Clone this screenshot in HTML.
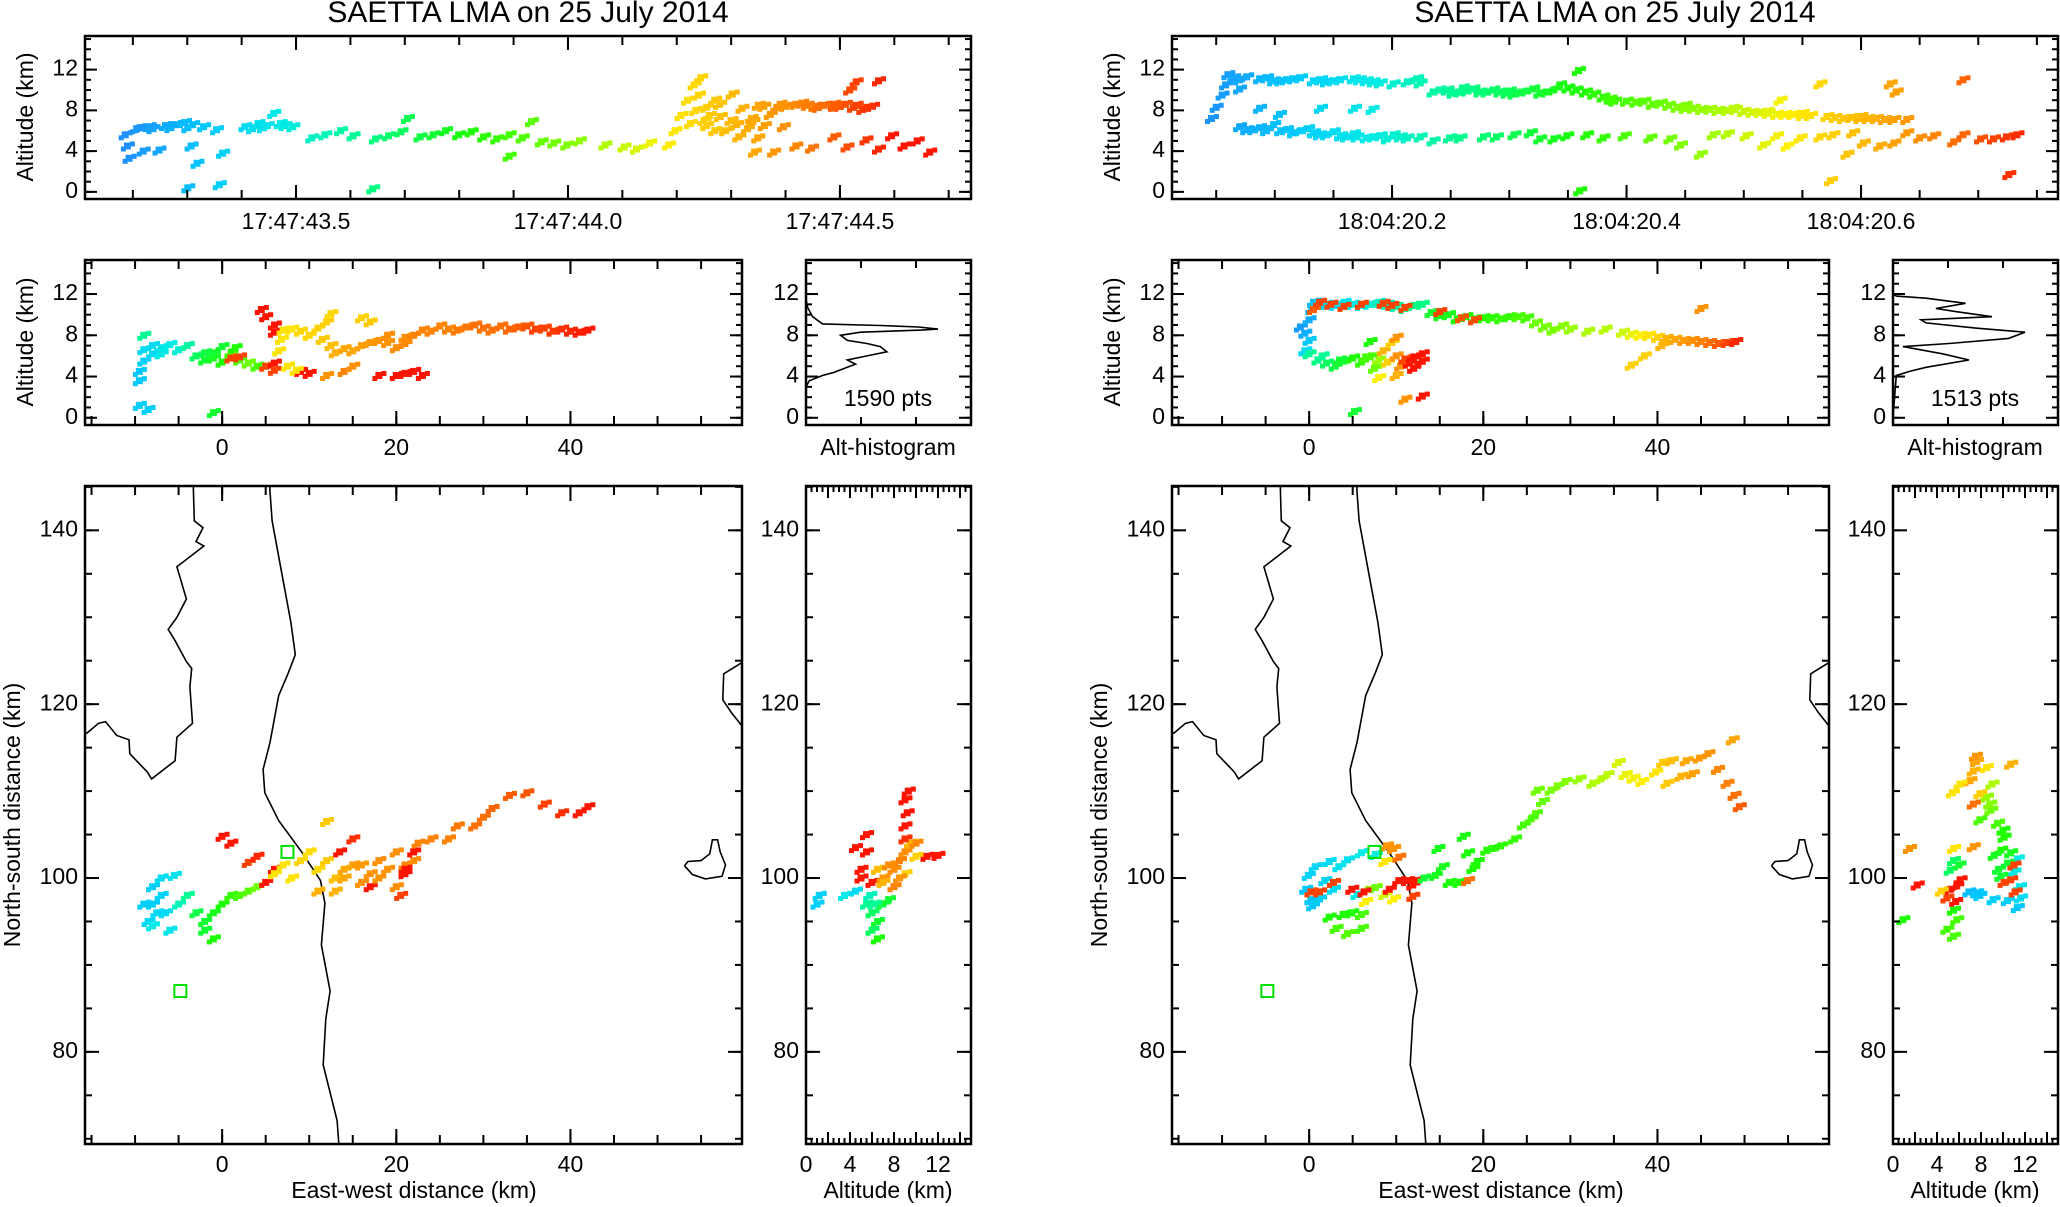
<!DOCTYPE html>
<html><head><meta charset="utf-8"><style>
html,body{margin:0;padding:0;background:#fff;}
svg{display:block;font-family:"Liberation Sans",sans-serif;}
</style></head><body>
<svg id="fig" width="2060" height="1207" viewBox="0 0 2060 1207" xmlns="http://www.w3.org/2000/svg">
<rect x="0" y="0" width="2060" height="1207" fill="#fff"/>
<defs>
<clipPath id="clipL"><rect x="85" y="486" width="657" height="658"/></clipPath>
<clipPath id="clipR"><rect x="1172" y="486" width="657" height="658"/></clipPath>
</defs>
</svg>
<script>
// ---------- DATA ----------
const leftTimeLabels=["17:47:43.5","17:47:44.0","17:47:44.5"];
const leftTimeTickVals=[0.5,1.0,1.5];
const rightTimeLabels=["18:04:20.2","18:04:20.4","18:04:20.6"];
const rightTimeTickVals=[0.2,0.4,0.6];
const altTickVals=[0,4,8,12];
const distTickVals=[0,20,40];
const nsTickVals=[80,100,120,140];
const leftCount="1590 pts";
const rightCount="1513 pts";
// time-altitude: [seconds after 17:47:43, alt km]
const leftTimeAlt=[[.186,5.6],[.19,4.5],[.193,3.3],[.207,6.2],[.213,6.3],[.237,6.2],[.26,6.5],[.278,6.6],[.219,4.0],[.248,4.1],[.301,6.3],[.307,4.5],[.318,2.8],[.301,0.4],[.33,6.4],[.354,6.1],[.365,3.8],[.359,0.7],[.295,6.8],[.406,6.4],[.43,6.7],[.447,6.5],[.471,6.7],[.494,6.4],[.459,7.7],[.42,6.2],[.529,5.3],[.553,5.6],[.582,6.0],[.605,5.5],[.641,0.3],[.646,5.2],[.67,5.5],[.693,5.9],[.705,7.2],[.728,5.4],[.752,5.6],[.775,6.0],[.799,5.6],[.822,5.9],[.845,5.4],[.869,5.2],[.892,5.6],[.916,5.3],[.933,6.9],[.892,3.5],[.951,4.9],[.974,4.8],[.998,4.6],[1.021,5.0],[1.068,4.6],[1.103,4.4],[1.126,4.2],[1.15,4.8],[1.185,4.6],[1.197,6.0],[1.208,7.5],[1.22,9.0],[1.232,10.5],[1.244,11.2],[1.255,8.3],[1.279,8.6],[1.302,9.6],[1.255,6.5],[1.29,6.0],[1.314,5.4],[1.337,7.2],[1.361,6.5],[1.349,5.3],[1.372,7.6],[1.384,8.3],[1.419,8.6],[1.454,8.4],[1.489,8.6],[1.525,8.3],[1.542,8.1],[1.53,10.8],[1.571,10.9],[1.518,10.0],[1.343,3.9],[1.378,3.9],[1.419,4.5],[1.448,4.3],[1.489,5.4],[1.513,4.4],[1.548,5.1],[1.571,4.2],[1.595,5.5],[1.618,4.5],[1.642,5.0],[1.665,3.9],[1.396,6.4],[1.24,9.5],[1.26,7.5],[1.32,8.2],[1.35,8.5],[1.40,8.4],[1.47,8.5],[1.50,8.4],[1.27,9.0],[.23,6.4],[.27,6.3],[.31,6.6],[.44,6.3],[.48,6.5],[1.33,6.2],[1.30,7.0],[1.43,8.7],[1.51,8.6],[1.56,8.4],[1.28,7.4],[1.31,6.6],[1.36,8.4],[1.39,8.6],[1.44,8.5],[1.46,8.3],[1.49,8.4],[1.53,8.5],[1.55,8.3],[1.225,6.7],[1.235,8.0],[1.25,7.0],[1.27,6.0],[1.34,6.9]];
// [seconds after 18:04:20, alt km]
const rightTimeAlt=[[.046,7.2],[.05,8.3],[.055,9.5],[.058,10.5],[.06,11.5],[.065,11.2],[.076,11.3],[.087,11.1],[.099,10.9],[.11,11.0],[.122,11.2],[.133,10.9],[.144,10.8],[.156,11.0],[.167,11.1],[.178,10.9],[.19,10.7],[.201,10.6],[.213,10.8],[.221,11.1],[.224,10.7],[.235,9.8],[.247,10.0],[.258,9.8],[.269,10.1],[.281,9.8],[.292,9.8],[.304,9.6],[.315,9.9],[.326,9.7],[.338,10.0],[.343,10.5],[.357,10.0],[.372,9.6],[.386,9.1],[.4,8.9],[.415,8.9],[.429,8.7],[.443,8.3],[.457,8.2],[.471,8.1],[.486,8.0],[.5,7.9],[.514,7.8],[.528,7.6],[.542,7.6],[.557,7.5],[.571,7.4],[.585,7.2],[.599,7.2],[.613,7.2],[.628,7.1],[.639,7.1],[.625,10.6],[.63,9.8],[.565,10.6],[.359,11.9],[.531,9.0],[.07,10.1],[.076,6.1],[.087,6.3],[.099,6.6],[.11,6.1],[.122,6.0],[.133,5.8],[.144,5.6],[.156,5.5],[.167,5.7],[.178,5.3],[.19,5.5],[.201,5.6],[.213,5.3],[.224,5.4],[.235,5.0],[.249,5.3],[.258,5.3],[.278,5.4],[.289,5.4],[.304,5.6],[.318,5.8],[.326,5.2],[.338,5.2],[.087,8.2],[.104,7.6],[.139,8.2],[.168,8.2],[.183,8.1],[.349,5.5],[.366,5.6],[.38,5.3],[.398,5.5],[.42,5.3],[.437,5.2],[.446,4.6],[.463,3.7],[.474,5.6],[.486,5.7],[.502,5.5],[.517,4.6],[.528,5.5],[.537,4.5],[.548,5.3],[.565,5.4],[.576,5.6],[.588,3.7],[.593,5.8],[.602,4.8],[.616,4.5],[.628,4.8],[.639,5.8],[.65,5.3],[.662,5.5],[.679,4.9],[.687,5.6],[.702,5.2],[.713,5.2],[.724,5.4],[.733,5.6],[.574,1.1],[.726,1.7],[.687,11.0],[.36,0.1],[.07,6.4],[.093,6.0],[.116,5.8],[.128,6.2],[.15,5.9],[.17,5.4],[.196,5.2],[.26,10.2],[.3,9.9],[.32,10.1],[.39,8.9],[.45,8.5],[.49,8.2],[.52,7.9],[.55,7.7],[.6,7.4],[.07,11.0],[.093,11.2],[.105,10.9],[.116,11.1],[.139,11.0],[.15,10.9],[.172,11.0],[.184,10.8],[.24,10.0],[.252,9.7],[.264,9.9],[.275,9.8],[.286,10.0],[.298,9.7],[.31,9.8],[.332,9.8],[.35,10.2],[.365,9.8],[.38,9.3],[.408,8.8],[.422,8.6],[.436,8.5],[.45,8.2],[.464,8.1],[.478,8.0],[.493,8.1],[.507,7.8],[.521,7.7],[.535,7.6],[.55,7.5],[.578,7.3],[.592,7.3],[.606,7.2],[.62,7.1],[.082,6.1],[.105,6.0],[.138,5.6],[.161,5.4],[.184,5.4],[.207,5.4]];
// east-west km, altitude km, color fraction
const leftXZ=[[-9.5,4.5,.1],[-9,5.5,.12],[-9,6.6,.15],[-8,7,.15],[-7,6.8,.18],[-6,7.1,.2],[-5,6.6,.22],[-4,7,.28],[-9.5,1.2,.12],[-8.5,0.8,.12],[-1,0.5,.4],[-9.5,3.6,.1],[-9,8,.3],[-8,6.2,.15],[-7,6.2,.2],[-3,6,.35],[-2,5.6,.4],[-1,5.8,.42],[0,5.4,.45],[1,6.3,.5],[2,5.6,.5],[3,5.3,.55],[4,5,.5],[0,6.9,.4],[1.5,6.8,.45],[-2,6.3,.38],[-1,6.3,.4],[1,5.8,.95],[2,5.9,.95],[5,5,.95],[6,5.3,1],[6,4.6,.95],[9,4.5,1],[10,4.3,1],[4.5,10.5,1],[5,9.8,1],[6,9,1],[6,8.3,1],[6.5,6.5,.72],[6.8,7.6,.72],[7,8.5,.72],[7.5,5,.72],[8.5,4.6,.72],[8,8.6,.72],[9,8.4,.74],[10,8.0,.74],[11,8.7,.75],[12,9.3,.75],[12.5,10.1,.74],[11.5,7.6,.76],[12.5,7,.78],[16,9.7,.75],[17,9.3,.76],[13,6.3,.8],[14,6.7,.82],[15,6.5,.82],[16,7,.83],[17,7.3,.84],[18,7.5,.85],[19,7.3,.85],[20,6.8,.86],[21,7.8,.86],[22,8,.88],[24,8.4,.88],[26,8.6,.88],[28,8.8,.89],[30,8.7,.9],[32,8.9,.9],[34,8.8,.92],[36,8.6,.95],[38,8.4,.96],[40,8.4,.98],[42,8.5,1],[23,8.5,.88],[25,8.9,.88],[27,8.5,.89],[29,9,.9],[31,8.5,.9],[33,8.6,.91],[35,8.9,.93],[37,8.7,.95],[39,8.6,.97],[41,8.3,.99],[18,4.1,1],[20,4.1,1],[21,4.3,1],[22,4.5,1],[23,4.1,1],[12,4.1,.85],[14,4.5,.88],[15,5,.86],[19,8.0,.86],[21,7.2,.87]];
const rightXZ=[[-1,8.8,.02],[-0.5,8.2,.05],[0,7.5,.1],[0,9.5,.05],[0.3,10.5,.05],[0.5,11.2,.08],[-0.5,6.5,.15],[1,11.2,.12],[2,11.0,.15],[3,10.9,.15],[4,11.2,.18],[5,11.0,.2],[6,10.9,.2],[7,11.0,.22],[8,11.2,.25],[9,11.0,.25],[10,10.8,.28],[11,10.6,.3],[12,10.9,.32],[13,11.0,.32],[0.5,10.5,.92],[1.2,11.2,.95],[2.5,11,.95],[4,10.8,.95],[6,11,.95],[8.5,11.1,.95],[9.5,10.9,.95],[11,10.7,.95],[14,10.2,.4],[15,9.9,.42],[16,10.0,.42],[17,9.6,.44],[18,9.8,.45],[19,9.6,.45],[20,9.7,.46],[21,9.7,.47],[22,9.6,.48],[23,9.8,.48],[24,9.8,.5],[25,9.7,.5],[15,10.3,.95],[17.5,9.7,.93],[19,9.5,.94],[26,9.2,.55],[27,8.8,.56],[28,8.5,.56],[29,8.9,.58],[30,8.6,.6],[32,8.4,.62],[34,8.6,.63],[36,8.3,.65],[37,8.1,.68],[38,8.0,.7],[39,8.0,.72],[40,7.8,.75],[41,7.7,.8],[42,7.6,.82],[43,7.5,.84],[44,7.5,.86],[45,7.4,.88],[46,7.3,.9],[47,7.2,.92],[48,7.3,.95],[49,7.4,.98],[38.5,6.0,.75],[37,5.1,.75],[40.5,7.0,.8],[45,10.6,.85],[0,6.2,.3],[1,5.6,.32],[2,5.3,.35],[3,5.0,.38],[4,5.5,.4],[5,5.8,.45],[6,5.4,.48],[7,5.9,.5],[8,5.6,.6],[7.5,4.8,.55],[8.5,6.5,.8],[9,5.4,.75],[9.5,7.3,.75],[10,6.0,.85],[10.5,5.0,.85],[11,5.7,.95],[12,5.9,1],[12.5,5.2,1],[13,6.2,1],[12,4.8,1],[10,4.1,.8],[8,3.9,.7],[11,1.8,.85],[13,2.1,1],[5.2,0.6,.4],[7,7.4,.45],[10,7.8,.85],[1.5,6.0,.3],[3.5,5.6,.4],[6.5,5.9,.5],[11.5,5.3,1],[13,5.5,1]];
// plan view: east-west km, north-south km, color fraction
const leftPlan=[[-9,97,.12],[-8.5,95,.15],[-8,99,.12],[-7,98,.13],[-6.5,96,.15],[-7,100,.15],[-5.5,100.3,.18],[-6,94,.18],[-8,94.5,.2],[-5,97,.25],[-4,98,.3],[-8,97,.12],[-7.5,96,.14],[-3,96,.38],[-2,95,.4],[-1,96,.42],[0,97,.45],[1,98,.48],[2,98,.5],[3,98.5,.52],[4,99,.55],[-1,93,.45],[-2,94,.4],[0,104.8,1],[1,104,1],[3,101.8,.95],[4,102.5,.98],[5,99.5,1],[6,101,1],[6,100.5,.72],[7,101.5,.72],[8,100,.72],[9,102,.74],[10,103,.73],[11,101,.74],[12,102,.76],[12,106.5,.76],[13,100,.78],[11,98.5,.8],[14,100,.82],[15,101.5,.84],[16,99.5,.85],[17,100.5,.85],[18,102,.86],[19,101,.85],[20,99,.86],[21,101.5,.88],[22,102,.86],[20,103,.86],[22.5,104,.88],[24,104.5,.88],[26,104.5,.88],[27,106,.89],[29,106,.9],[30,107,.9],[31,108,.91],[33,109.5,.92],[35,109.8,.93],[37,108.5,.95],[39,107.5,.97],[41,107.5,.99],[42,108.2,1],[17,99,1],[21,101,1],[22,103,1],[20.5,98,.95],[21,100.5,1],[15,104.5,.97],[13.5,103,1],[14,101,.82],[16,101.5,.84],[18,100,.85],[13,98.5,.8]];
const rightPlan=[[-0.4,98.7,.1],[-0.1,100.3,.12],[0.7,101.3,.14],[2.3,101.9,.15],[4.4,102.1,.17],[6,102.9,.2],[7.6,102.7,.22],[0.4,96.8,.1],[1.2,97.6,.12],[2.8,98.7,.15],[5.5,98.1,.2],[3.4,101.3,.17],[1.8,99.7,.13],[0.2,97.5,.1],[3.9,95.8,.45],[4.9,96,.45],[6,95.8,.5],[3.1,94.2,.5],[4.4,93.6,.52],[6,94.2,.5],[2.3,95.5,.45],[6.8,98.7,.6],[7.6,98.9,.55],[8.7,98.1,.65],[9.7,97.6,.7],[6.5,97.3,.7],[0.2,98.4,.95],[1.2,98.4,.95],[2.8,99.5,.95],[4.9,98.7,1],[6.3,98.4,1],[9.2,98.7,1],[10.3,99.7,1],[11.3,99.7,1],[11.9,99.2,1],[12.4,99.7,1],[11.9,97.9,.95],[9.7,103.4,.85],[8.9,103.7,.85],[10.3,102.4,.9],[8.7,101.9,.72],[13.2,100,.4],[14.5,100.3,.42],[14.8,103.4,.42],[15.3,101.3,.42],[16.1,99.5,.44],[17.2,99.5,.44],[18.2,99.7,.9],[18.8,101.1,.45],[17.7,104.8,.43],[18.2,102.9,.44],[19.3,101.9,.45],[20.4,103.2,.46],[22,103.7,.47],[23.6,104.5,.48],[24.6,106.1,.5],[26,107.4,.52],[26.8,108.8,.54],[26.2,110.1,.55],[27.8,110.1,.56],[29.4,111.1,.58],[31,111.4,.6],[32.6,110.9,.62],[34.2,111.9,.64],[35.5,113.3,.66],[36.3,111.9,.68],[38.2,111.1,.7],[39.8,112.2,.72],[40.6,113.3,.76],[41.6,113.5,.78],[42.7,111.7,.8],[43.3,113.5,.82],[44.8,113.8,.84],[45.8,114.3,.85],[46.9,112.5,.87],[48,110.9,.88],[48.8,109.5,.9],[49.4,108.2,.92],[48.6,115.9,.82],[41.1,110.9,.76],[21,103.4,.46],[25.5,106.8,.51],[28.5,110.6,.57],[33.5,111.4,.63],[37.2,111.5,.69],[44,112,.83]];
// side view: altitude km, north-south km, color fraction
const leftSide=[[1.2,98,.12],[1,97,.12],[3.5,98,.2],[4.5,98.5,.15],[5.5,97,.3],[6,96,.35],[6.5,95,.4],[6,94,.35],[6.5,93,.45],[7,97,.38],[5.8,98,.25],[7.5,97.5,.4],[6.2,97,.3],[5,100,1],[5,101,1],[5.5,103,1],[4.5,103.5,1],[5.5,105,1],[6,99.5,1],[7,100,.85],[8,101,.86],[8.5,102,.88],[9,103,.86],[9.5,104,.8],[10,102.5,.75],[8,99,.88],[7,99.5,.8],[9,100.5,.75],[6.5,101,.78],[9,104.5,.97],[9,106,1],[9.2,107.5,1],[9,109,1],[9.3,110,1],[11,102.5,1],[12,102.6,1],[10,104,.87],[7.5,101.5,.86],[8.5,100,.85]];
const rightSide=[[7.6,98.3,.1],[9.1,97.5,.12],[10.4,97.4,.12],[11.3,96.6,.1],[11.6,97.7,.15],[11.3,102.2,.2],[11.0,100.7,.2],[6.9,98.4,.08],[7.9,98,.1],[11.5,99,.18],[9.8,103.2,.45],[10.1,104.7,.45],[10.4,101.7,.4],[9.8,100.2,.4],[10.7,102.9,.42],[9.2,102.6,.42],[10,105.5,.45],[9.6,101,.4],[11.0,101.5,.95],[10.1,99.5,.95],[10.7,99.8,.95],[11.1,98.4,.95],[9.5,106.3,.5],[8.9,107.8,.55],[8.5,109.3,.6],[9.0,110.8,.62],[7.9,106.7,.5],[8.8,108.5,.58],[7.3,112.3,.8],[7.6,113.4,.82],[7.0,111.2,.82],[8.5,112.7,.72],[7.9,109.7,.75],[7.3,108.5,.9],[6.1,110.8,.72],[5.4,109.8,.72],[10.7,113.1,.8],[7.5,114,.85],[5.2,98.7,1],[5.8,99.1,1],[6.1,99.8,1],[4.9,97.7,.95],[5.7,97.3,1],[5.2,100.9,.35],[5.5,102,.35],[5.5,103.4,.72],[7.3,103.6,.85],[1.5,103.4,.85],[2.2,99.2,1],[0.9,95.2,.45],[5.5,96.3,.45],[5.8,95.2,.5],[4.9,94.1,.5],[5.5,93.3,.5],[4.4,98.5,.75],[6.0,101.5,.4]];
// altitude histograms: altitude km, normalized count
const leftHistAlt=[0,3.0,3.6,4.1,4.4,4.9,5.2,5.6,6.0,6.4,6.9,7.2,7.5,8.0,8.3,8.5,8.6,8.8,8.95,9.1,9.8,10.7,11.5];
const leftHistCount=[0,0,.02,.1,.17,.25,.3,.25,.37,.49,.45,.37,.25,.21,.33,.7,.8,.68,.45,.1,.04,.01,0];
const rightHistAlt=[0,4.1,4.5,4.9,5.6,6.2,6.9,7.2,7.7,8.3,8.7,9.2,9.5,9.8,10.3,10.6,11.1,11.6,11.8,12.0];
const rightHistCount=[0,.02,.1,.2,.46,.3,.06,.34,.7,.8,.5,.2,.17,.6,.38,.26,.44,.2,.02,0];
// map outlines (km)
const coastWest=[[-3.3,146],[-3.3,144.6],[-3.2,141.1],[-2.2,140.3],[-3.0,138.7],[-2.1,138.2],[-5.2,135.8],[-4.1,132.1],[-5.2,130],[-6.2,128.6],[-5.4,127.3],[-4.1,124.9],[-3.5,124.1],[-3.7,122],[-3.4,117.8],[-5.2,116.2],[-5.4,113.5],[-8.1,111.4],[-8.6,112.2],[-10.6,114.3],[-10.7,115.9],[-12.1,116.4],[-13.4,118],[-14.2,117.8],[-15.5,116.7],[-16.5,116.2]];
const coastMid=[[5.5,146],[5.48,144.6],[5.74,141.1],[6.8,135.3],[7.9,129.4],[8.4,125.7],[7.6,123.6],[6.5,121],[5.5,115.6],[4.7,112.5],[4.9,109.8],[6.5,106.6],[9.2,102.9],[11.3,99.7],[11.8,97.1],[11.4,92.3],[12.4,87],[11.9,83.8],[11.6,78.5],[13.2,72.1],[13.5,68]];
const island=[[53.1,101.4],[54,100.4],[55.5,99.9],[57.4,100.2],[57.8,101.5],[57.2,103],[56.9,104.4],[56.3,104.4],[56,102.8],[55,102],[53.5,101.9],[53.1,101.4]];
const eastCoast=[[60.5,125],[59.7,124.8],[57.6,123.5],[57.5,120.5],[58.5,119],[59.7,117.5],[60.5,117]];
const stations=[[-4.8,87],[7.5,103]];

// ---------- DRAWING ----------
const NS="http://www.w3.org/2000/svg";
const svg=document.getElementById('fig');
function mk(tag,attrs,parent){const e=document.createElementNS(NS,tag);for(const k in attrs)e.setAttribute(k,attrs[k]);(parent||svg).appendChild(e);return e;}
const STOPS=[[0,[30,144,255]],[.1,[0,200,255]],[.2,[0,235,230]],[.32,[0,255,130]],[.45,[30,255,0]],[.6,[150,255,0]],[.7,[255,240,0]],[.78,[255,190,0]],[.88,[255,130,0]],[1,[255,20,0]]];
function color(c){c=Math.max(0,Math.min(1,c));for(let i=1;i<STOPS.length;i++){if(c<=STOPS[i][0]){const a=STOPS[i-1],b=STOPS[i];const f=(c-a[0])/(b[0]-a[0]);const r=a[1].map((v,j)=>Math.round(v+(b[1][j]-v)*f));return `rgb(${r[0]},${r[1]},${r[2]})`;}}return 'rgb(255,20,0)';}
function lin(d0,d1,r0,r1){return v=>r0+(v-d0)/(d1-d0)*(r1-r0);}
function frame(p,name){const r=mk('rect',{x:p.x0,y:p.y0,width:p.x1-p.x0,height:p.y1-p.y0,fill:'none',stroke:'#000','stroke-width':2.5});

}
function tickY(p,from,to,step,len){const g=mk('g',{stroke:'#000','stroke-width':2});


for(let v=from;v<=to+1e-9;v+=step){const y=p.sy(v);if(y<p.y0||y>p.y1)continue;mk('line',{x1:p.x0,x2:p.x0+len,y1:y,y2:y},g);mk('line',{x1:p.x1,x2:p.x1-len,y1:y,y2:y},g);}}
function tickX(p,from,to,step,len){const g=mk('g',{stroke:'#000','stroke-width':2});


for(let v=from;v<=to+1e-9;v+=step){const x=p.sx(v);if(x<p.x0||x>p.x1)continue;mk('line',{x1:x,x2:x,y1:p.y1,y2:p.y1-len},g);mk('line',{x1:x,x2:x,y1:p.y0,y2:p.y0+len},g);}}
function text(x,y,s,size,anchor,name,rot){const t=mk('text',{x:x,y:y,'font-size':size,'text-anchor':anchor||'middle','dominant-baseline':'middle',fill:'#000'});
if(rot)t.setAttribute('transform',`rotate(-90 ${x} ${y})`);
t.textContent=s;


return t;}
const BLOB=[[0,0,7],[5,-2,5],[-4,3,5]];
function dots(p,arr,fx,fy,fc,name){const g=mk('g',{});


arr.forEach(d=>{const x=p.sx(fx(d)),y=p.sy(fy(d));const col=color(fc(d));const pg=mk('g',{fill:col},g);


BLOB.forEach(b=>{const bx=Math.max(p.x0+1,Math.min(p.x1-1-b[2],x+b[0]-b[2]/2));const by=Math.max(p.y0+1,Math.min(p.y1-1-b[2],y+b[1]-b[2]/2));mk('rect',{x:bx.toFixed(1),y:by.toFixed(1),width:b[2],height:b[2]},pg);});});}
function panel(x0,y0,x1,y1,dx,dy){return {x0,y0,x1,y1,sx:lin(dx[0],dx[1],x0,x1),sy:lin(dy[0],dy[1],y1,y0)};}
function line(p,pts,name,clip){const d=pts.map((q,i)=>(i?'L':'M')+p.sx(q[0]).toFixed(1)+','+p.sy(q[1]).toFixed(1)).join('');
const e=mk('path',{d:d,fill:'none',stroke:'#000','stroke-width':1.6});
if(clip)e.setAttribute('clip-path',`url(#${clip})`);

}

const ZR=[-0.7,15.3];
function drawSide(o,cfg){
  text(o+528,14,"SAETTA LMA on 25 July 2014",30,'middle','plot-title');
  const pt=panel(85+o,36,971+o,199,cfg.tdom,ZR);
  dots(pt,cfg.timeAlt,d=>d[0],d=>d[1],d=>(d[0]-cfg.t0)/(cfg.t1-cfg.t0),'time-altitude-points');
  frame(pt,'time-height-panel');
  tickY(pt,0,15,1,6);tickY(pt,0,12,4,12);
  tickX(pt,cfg.tstart,cfg.tdom[1],cfg.tstep,9);
  cfg.tickVals.forEach((v,i)=>{tickX(pt,v,v,1,14);text(pt.sx(v),223,cfg.tickLabels[i],23,'middle','time-tick-label');});
  altTickVals.forEach(v=>text(pt.x0-7,pt.sy(v),String(v),23,'end','y-tick-label'));
  text(27+o,117,"Altitude (km)",23,'middle','y-axis-title',true);
  const pxz=panel(85+o,260,742+o,425,[-15.75,59.7],ZR);
  dots(pxz,cfg.xz,d=>d[0],d=>d[1],d=>d[2],'ew-altitude-points');
  frame(pxz,'ew-altitude-panel');
  tickY(pxz,0,15,1,6);tickY(pxz,0,12,4,12);tickX(pxz,-15,55,5,9);tickX(pxz,0,40,20,14);
  altTickVals.forEach(v=>text(pxz.x0-7,pxz.sy(v),String(v),23,'end','y-tick-label'));
  distTickVals.forEach(v=>text(pxz.sx(v),449,String(v),23,'middle','x-tick-label'));
  text(27+o,342,"Altitude (km)",23,'middle','y-axis-title',true);
  const ph=panel(806+o,260,971+o,425,[0,1],ZR);
  const hp=cfg.histAlt.map((a,i)=>[cfg.histCount[i],a]);
  line(ph,hp,'altitude-histogram-line');
  frame(ph,'histogram-panel');
  tickY(ph,0,15,1,6);tickY(ph,0,12,4,12);tickX(ph,0,1,1/3,8);
  altTickVals.forEach(v=>text(ph.x0-7,ph.sy(v),String(v),23,'end','y-tick-label'));
  text(o+888,400,cfg.count,23,'middle','point-count');
  text(o+888,449,"Alt-histogram",23,'middle','histogram-title');
  const pp=panel(85+o,486,742+o,1144,[-15.75,59.7],[69.4,145.1]);
  const clip=o?'clipR':'clipL';
  line(pp,coastWest,'coastline-west',clip);line(pp,coastMid,'coastline-central',clip);line(pp,island,'island-outline',clip);line(pp,eastCoast,'coastline-east',clip);
  dots(pp,cfg.plan,d=>d[0],d=>d[1],d=>d[2],'plan-view-points');
  stations.forEach(s=>{const r=mk('rect',{x:pp.sx(s[0])-6,y:pp.sy(s[1])-6,width:12,height:12,fill:'none',stroke:'#00e000','stroke-width':2});
  
  });
  frame(pp,'plan-view-panel');
  tickX(pp,-15,55,5,9);tickX(pp,0,40,20,15);tickY(pp,70,145,5,7);tickY(pp,80,140,20,14);
  distTickVals.forEach(v=>text(pp.sx(v),1166,String(v),23,'middle','x-tick-label'));
  nsTickVals.forEach(v=>text(pp.x0-7,pp.sy(v),String(v),23,'end','y-tick-label'));
  text(o+414,1192,"East-west distance (km)",23,'middle','x-axis-title');
  text(14+o,815,"North-south distance (km)",23,'middle','y-axis-title',true);
  const ps=panel(806+o,486,971+o,1144,[0,15],[69.4,145.1]);
  dots(ps,cfg.side,d=>d[0],d=>d[1],d=>d[2],'altitude-ns-points');
  frame(ps,'altitude-ns-panel');
  tickX(ps,0,15,0.5,6);tickX(ps,0,14,2,12);tickY(ps,70,145,5,7);tickY(ps,80,140,20,14);
  altTickVals.forEach(v=>text(ps.sx(v),1166,String(v),23,'middle','x-tick-label'));
  nsTickVals.forEach(v=>text(ps.x0-7,ps.sy(v),String(v),23,'end','y-tick-label'));
  text(o+888,1192,"Altitude (km)",23,'middle','x-axis-title');
}
drawSide(0,{tdom:[0.112,1.741],tstart:0.2,tstep:0.1,tickVals:leftTimeTickVals,tickLabels:leftTimeLabels,t0:0.19,t1:1.6,timeAlt:leftTimeAlt,xz:leftXZ,histAlt:leftHistAlt,histCount:leftHistCount,count:leftCount,plan:leftPlan,side:leftSide});
drawSide(1087,{tdom:[0.0123,0.768],tstart:0.05,tstep:0.05,tickVals:rightTimeTickVals,tickLabels:rightTimeLabels,t0:0.04,t1:0.75,timeAlt:rightTimeAlt,xz:rightXZ,histAlt:rightHistAlt,histCount:rightHistCount,count:rightCount,plan:rightPlan,side:rightSide});
</script>
</body></html>
